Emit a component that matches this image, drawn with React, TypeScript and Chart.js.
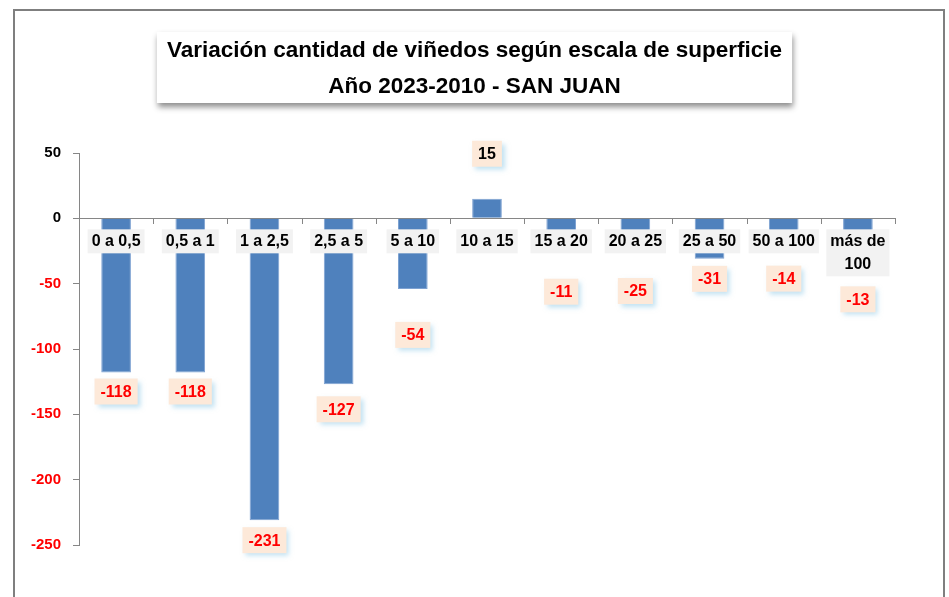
import React, { useEffect, useRef } from 'react';
import { Chart, registerables } from 'chart.js';

Chart.register(...registerables);

// ---------- data ----------
const TITLE_LINES = [
  'Variación cantidad de viñedos según escala de superficie',
  'Año 2023-2010 - SAN JUAN',
];
const CATEGORIES: (string | string[])[] = [
  '0 a 0,5',
  '0,5 a 1',
  '1 a 2,5',
  '2,5 a 5',
  '5 a 10',
  '10 a 15',
  '15 a 20',
  '20 a 25',
  '25 a 50',
  '50 a 100',
  ['más de', '100'],
];
const VALUES = [-118, -118, -231, -127, -54, 15, -11, -25, -31, -14, -13];
const Y_MIN = -250;
const Y_MAX = 50;
const Y_STEP = 50;

// ---------- styling ----------
const FONT = "'Liberation Sans', Arial, sans-serif";
const BAR_COLOR = '#4f81bd';
const AXIS_COLOR = '#868686';
const LABEL_GAP = 19; // px between bar end and data-label centre
const LABEL_EXTRA_GAP = [0, 0, 1, 6, 27, 26, 40, 21, 1, 23, 45]; // manual nudges (px)

const framePlugin = {
  id: 'frame',
  beforeDraw(chart: any) {
    const { ctx, width, height } = chart;
    ctx.save();
    ctx.fillStyle = '#ffffff';
    ctx.fillRect(0, 0, width, height);
    // outer border
    ctx.strokeStyle = '#7f7f7f';
    ctx.lineWidth = 2;
    ctx.strokeRect(14, 10, 930, height + 20);
    // title box with shadow
    const tb = chart.titleBlock;
    if (tb) {
      ctx.font = `bold 22.5px ${FONT}`;
      let w = 0;
      TITLE_LINES.forEach((l) => (w = Math.max(w, ctx.measureText(l).width)));
      const cx = (tb.left + tb.right) / 2;
      const x0 = cx - w / 2 - 10;
      ctx.shadowColor = 'rgba(0,0,0,0.45)';
      ctx.shadowBlur = 6;
      ctx.shadowOffsetX = 1;
      ctx.shadowOffsetY = 4;
      ctx.fillStyle = '#ffffff';
      ctx.fillRect(x0, tb.top + 32, w + 20, 71);
    }
    ctx.restore();
  },
};

const axisPlugin = {
  id: 'zeroAxis',
  beforeDatasetsDraw(chart: any) {
    const { ctx, chartArea } = chart;
    const y0 = chart.scales.y.getPixelForValue(0);
    const n = CATEGORIES.length;
    ctx.save();
    ctx.strokeStyle = AXIS_COLOR;
    ctx.lineWidth = 1;
    ctx.beginPath();
    ctx.moveTo(chartArea.left, Math.round(y0) + 0.5);
    ctx.lineTo(chartArea.right, Math.round(y0) + 0.5);
    for (let i = 0; i <= n; i++) {
      const x = Math.round(chartArea.left + (i * (chartArea.right - chartArea.left)) / n) + 0.5;
      ctx.moveTo(x, Math.round(y0));
      ctx.lineTo(x, Math.round(y0) + 6);
    }
    ctx.stroke();
    ctx.restore();
  },
};

const labelsPlugin = {
  id: 'labels',
  afterDatasetsDraw(chart: any) {
    const { ctx } = chart;
    const xs = chart.scales.x;
    const ys = chart.scales.y;
    const y0 = ys.getPixelForValue(0);
    const meta = chart.getDatasetMeta(0);
    ctx.save();
    ctx.textAlign = 'center';
    ctx.textBaseline = 'middle';

    // category labels at the zero line
    ctx.font = `bold 16px ${FONT}`;
    CATEGORIES.forEach((c, i) => {
      const lines = Array.isArray(c) ? c : [c];
      const x = xs.getPixelForValue(i);
      let w = 0;
      lines.forEach((l) => (w = Math.max(w, ctx.measureText(l).width)));
      const top = y0 + 11;
      const lh = 23;
      ctx.fillStyle = '#f2f2f2';
      ctx.fillRect(x - w / 2 - 4, top, w + 8, lines.length * lh + 1);
      ctx.fillStyle = '#000000';
      lines.forEach((l, k) => ctx.fillText(l, x, top + 12 + k * lh));
    });

    // data labels
    ctx.font = `bold 16px ${FONT}`;
    VALUES.forEach((v, i) => {
      const bar = meta.data[i];
      const x = bar.x;
      const gap = LABEL_GAP + LABEL_EXTRA_GAP[i];
      const cy = v < 0 ? bar.y + gap : bar.y - gap;
      const txt = String(v);
      const w = ctx.measureText(txt).width;
      const bw = w + 12;
      const bh = 26;
      ctx.save();
      ctx.shadowColor = 'rgba(140,200,230,0.55)';
      ctx.shadowBlur = 5;
      ctx.shadowOffsetX = 3;
      ctx.shadowOffsetY = 3;
      ctx.fillStyle = '#fde9d9';
      ctx.fillRect(x - bw / 2, cy - bh / 2, bw, bh);
      ctx.restore();
      ctx.fillStyle = v < 0 ? '#ff0000' : '#000000';
      ctx.fillText(txt, x, cy + 1);
    });
    ctx.restore();
  },
};

export default function App() {
  const ref = useRef<HTMLCanvasElement>(null);
  useEffect(() => {
    if (!ref.current) return;
    const chart = new Chart(ref.current, {
      type: 'bar',
      data: {
        labels: CATEGORIES as any,
        datasets: [
          {
            data: VALUES,
            backgroundColor: BAR_COLOR,
            borderColor: '#7ea2d2',
            borderWidth: 1,
            barPercentage: 0.4,
            categoryPercentage: 1,
          },
        ],
      },
      options: {
        responsive: false,
        animation: false,
        events: [],
        layout: { padding: { left: 0, right: 0, top: 0, bottom: 52 } },
        plugins: {
          legend: { display: false },
          tooltip: { enabled: false },
          title: {
            display: true,
            text: TITLE_LINES,
            color: '#000000',
            font: { family: FONT, size: 22.5, weight: 'bold', lineHeight: '36px' } as any,
            padding: { top: 33, bottom: 48 },
          },
        },
        scales: {
          x: { display: false },
          y: {
            position: 'left',
            min: Y_MIN,
            max: Y_MAX,
            afterFit: (s: any) => {
              s.width = 79;
            },
            ticks: {
              stepSize: Y_STEP,
              padding: 12,
              color: (c: any) => (c.tick && c.tick.value < 0 ? '#ff0000' : '#000000'),
              font: { family: FONT, size: 15, weight: 'bold' },
            },
            grid: {
              drawOnChartArea: false,
              drawTicks: true,
              tickLength: 6,
              color: AXIS_COLOR,
            },
            border: { display: true, color: AXIS_COLOR, width: 1 },
          },
          spacer: {
            position: 'right',
            min: Y_MIN,
            max: Y_MAX,
            afterFit: (s: any) => {
              s.width = 54;
            },
            ticks: { display: false },
            grid: { display: false, drawTicks: false },
            border: { display: false },
          },
        },
      },
      plugins: [framePlugin, axisPlugin, labelsPlugin],
    });
    return () => chart.destroy();
  }, []);
  return (
    <div style={{ position: 'absolute', left: 0, top: 0, width: 949, height: 597 }}>
      <canvas ref={ref} width={949} height={597} style={{ display: 'block' }} />
    </div>
  );
}
